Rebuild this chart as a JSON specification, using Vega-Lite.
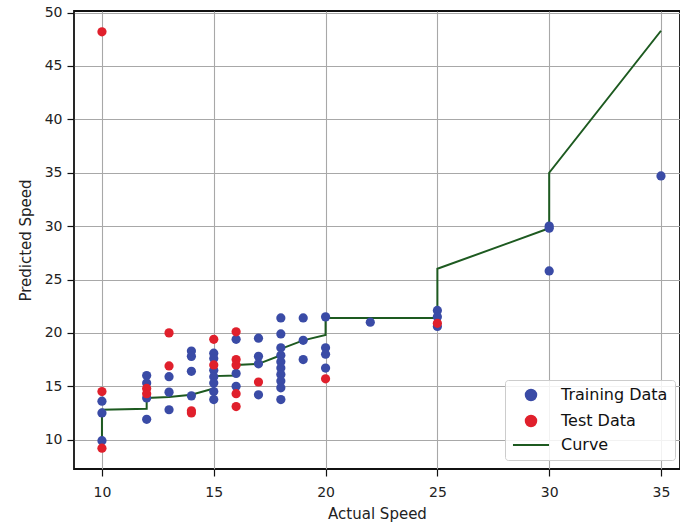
{
  "$schema": "https://vega.github.io/schema/vega-lite/v6.json",
  "width": 606,
  "height": 458,
  "padding": {"left": 74, "top": 11, "right": 0, "bottom": 58},
  "autosize": {"type": "none"},
  "background": "white",
  "config": {
    "font": "DejaVu Sans",
    "view": {"stroke": "#111", "strokeWidth": 1.8},
    "axis": {
      "grid": true,
      "gridColor": "#a8a8a8",
      "gridWidth": 1.1,
      "domain": false,
      "tickColor": "#111",
      "tickSize": 7,
      "tickWidth": 1.2,
      "labelColor": "#222",
      "labelFontSize": 14,
      "titleFontSize": 15,
      "titleFontWeight": "normal",
      "titleColor": "#222"
    }
  },
  "datasets": {
    "pts": [
      {"x": 10, "y": 13.6, "series": "Training Data"},
      {"x": 10, "y": 12.5, "series": "Training Data"},
      {"x": 10, "y": 9.9, "series": "Training Data"},
      {"x": 12, "y": 16.0, "series": "Training Data"},
      {"x": 12, "y": 15.3, "series": "Training Data"},
      {"x": 12, "y": 13.9, "series": "Training Data"},
      {"x": 12, "y": 11.9, "series": "Training Data"},
      {"x": 13, "y": 15.9, "series": "Training Data"},
      {"x": 13, "y": 14.45, "series": "Training Data"},
      {"x": 13, "y": 12.8, "series": "Training Data"},
      {"x": 14, "y": 18.3, "series": "Training Data"},
      {"x": 14, "y": 17.8, "series": "Training Data"},
      {"x": 14, "y": 16.4, "series": "Training Data"},
      {"x": 14, "y": 14.1, "series": "Training Data"},
      {"x": 15, "y": 18.1, "series": "Training Data"},
      {"x": 15, "y": 17.6, "series": "Training Data"},
      {"x": 15, "y": 16.5, "series": "Training Data"},
      {"x": 15, "y": 15.9, "series": "Training Data"},
      {"x": 15, "y": 15.3, "series": "Training Data"},
      {"x": 15, "y": 14.5, "series": "Training Data"},
      {"x": 15, "y": 13.75, "series": "Training Data"},
      {"x": 16, "y": 19.4, "series": "Training Data"},
      {"x": 16, "y": 16.2, "series": "Training Data"},
      {"x": 16, "y": 15.0, "series": "Training Data"},
      {"x": 17, "y": 19.5, "series": "Training Data"},
      {"x": 17, "y": 17.8, "series": "Training Data"},
      {"x": 17, "y": 17.1, "series": "Training Data"},
      {"x": 17, "y": 14.2, "series": "Training Data"},
      {"x": 18, "y": 21.4, "series": "Training Data"},
      {"x": 18, "y": 19.9, "series": "Training Data"},
      {"x": 18, "y": 18.6, "series": "Training Data"},
      {"x": 18, "y": 17.9, "series": "Training Data"},
      {"x": 18, "y": 17.3, "series": "Training Data"},
      {"x": 18, "y": 16.7, "series": "Training Data"},
      {"x": 18, "y": 16.1, "series": "Training Data"},
      {"x": 18, "y": 15.5, "series": "Training Data"},
      {"x": 18, "y": 14.85, "series": "Training Data"},
      {"x": 18, "y": 13.75, "series": "Training Data"},
      {"x": 19, "y": 21.4, "series": "Training Data"},
      {"x": 19, "y": 19.3, "series": "Training Data"},
      {"x": 19, "y": 17.5, "series": "Training Data"},
      {"x": 20, "y": 21.5, "series": "Training Data"},
      {"x": 20, "y": 18.6, "series": "Training Data"},
      {"x": 20, "y": 18.0, "series": "Training Data"},
      {"x": 20, "y": 16.7, "series": "Training Data"},
      {"x": 22, "y": 21.0, "series": "Training Data"},
      {"x": 25, "y": 22.1, "series": "Training Data"},
      {"x": 25, "y": 21.5, "series": "Training Data"},
      {"x": 25, "y": 20.6, "series": "Training Data"},
      {"x": 30, "y": 30.0, "series": "Training Data"},
      {"x": 30, "y": 29.8, "series": "Training Data"},
      {"x": 30, "y": 25.8, "series": "Training Data"},
      {"x": 35, "y": 34.7, "series": "Training Data"},
      {"x": 10, "y": 48.2, "series": "Test Data"},
      {"x": 10, "y": 14.5, "series": "Test Data"},
      {"x": 10, "y": 9.2, "series": "Test Data"},
      {"x": 12, "y": 14.8, "series": "Test Data"},
      {"x": 12, "y": 14.3, "series": "Test Data"},
      {"x": 13, "y": 20.0, "series": "Test Data"},
      {"x": 13, "y": 16.9, "series": "Test Data"},
      {"x": 14, "y": 12.7, "series": "Test Data"},
      {"x": 14, "y": 12.5, "series": "Test Data"},
      {"x": 15, "y": 19.4, "series": "Test Data"},
      {"x": 15, "y": 17.0, "series": "Test Data"},
      {"x": 16, "y": 20.1, "series": "Test Data"},
      {"x": 16, "y": 17.5, "series": "Test Data"},
      {"x": 16, "y": 17.0, "series": "Test Data"},
      {"x": 16, "y": 14.3, "series": "Test Data"},
      {"x": 16, "y": 13.1, "series": "Test Data"},
      {"x": 17, "y": 15.4, "series": "Test Data"},
      {"x": 20, "y": 15.7, "series": "Test Data"},
      {"x": 25, "y": 20.9, "series": "Test Data"}
    ],
    "curve": [
      {"i": 0, "x": 10, "y": 10.0, "series": "Curve"},
      {"i": 1, "x": 10, "y": 12.8, "series": "Curve"},
      {"i": 2, "x": 12, "y": 12.9, "series": "Curve"},
      {"i": 3, "x": 12, "y": 13.9, "series": "Curve"},
      {"i": 4, "x": 13, "y": 14.0, "series": "Curve"},
      {"i": 5, "x": 14, "y": 14.2, "series": "Curve"},
      {"i": 6, "x": 15, "y": 14.8, "series": "Curve"},
      {"i": 7, "x": 15, "y": 15.95, "series": "Curve"},
      {"i": 8, "x": 16, "y": 16.0, "series": "Curve"},
      {"i": 9, "x": 16, "y": 17.0, "series": "Curve"},
      {"i": 10, "x": 17, "y": 17.1, "series": "Curve"},
      {"i": 11, "x": 18, "y": 17.9, "series": "Curve"},
      {"i": 12, "x": 18, "y": 18.5, "series": "Curve"},
      {"i": 13, "x": 19, "y": 19.3, "series": "Curve"},
      {"i": 14, "x": 20, "y": 19.8, "series": "Curve"},
      {"i": 15, "x": 20, "y": 21.4, "series": "Curve"},
      {"i": 16, "x": 22, "y": 21.4, "series": "Curve"},
      {"i": 17, "x": 25, "y": 21.4, "series": "Curve"},
      {"i": 18, "x": 25, "y": 26.0, "series": "Curve"},
      {"i": 19, "x": 30, "y": 29.8, "series": "Curve"},
      {"i": 20, "x": 30, "y": 35.0, "series": "Curve"},
      {"i": 21, "x": 35, "y": 48.3, "series": "Curve"}
    ]
  },
  "encoding": {
    "x": {
      "field": "x", "type": "quantitative",
      "scale": {"domain": [8.75, 35.85], "nice": false, "zero": false},
      "axis": {"values": [10, 15, 20, 25, 30, 35], "title": "Actual Speed", "labelPadding": 9, "titlePadding": 7}
    },
    "y": {
      "field": "y", "type": "quantitative",
      "scale": {"domain": [7.25, 50.15], "nice": false, "zero": false},
      "axis": {"values": [10, 15, 20, 25, 30, 35, 40, 45, 50], "title": "Predicted Speed", "labelPadding": 5, "titlePadding": 11}
    },
    "color": {"field": "series", "type": "nominal",
      "scale": {"domain": ["Training Data", "Test Data", "Curve"], "range": ["#3a4ba6", "#e0202c", "#1d5a20"]},
      "legend": {
        "title": null,
        "orient": "none",
        "legendX": 431,
        "legendY": 369,
        "values": ["Training Data", "Test Data", "Curve"],
        "labelFontSize": 16,
        "labelColor": "#111",
        "labelOffset": 22,
        "symbolOffset": 11,
        "rowPadding": 6,
        "padding": 7,
        "fillColor": "rgba(255,255,255,0.85)",
        "strokeColor": "#cccccc",
        "cornerRadius": 3,
        "symbolType": "circle",
        "encode": {
          "symbols": {
            "update": {
              "shape": {"signal": "datum.value === 'Curve' ? 'stroke' : 'circle'"},
              "size": {"signal": "datum.value === 'Curve' ? 1300 : 110"},
              "stroke": {"scale": "color", "field": "value"},
              "strokeWidth": {"value": 2},
              "fill": {"signal": "datum.value === 'Curve' ? 'transparent' : scale('color', datum.value)"}
            }
          }
        }
      }
    }
  },
  "layer": [
    {
      "data": {"name": "curve"},
      "mark": {"type": "line", "strokeWidth": 2, "clip": true},
      "encoding": {
        "order": {"field": "i", "type": "quantitative"}
      }
    },
    {
      "data": {"name": "pts"},
      "mark": {"type": "point", "filled": true, "size": 85, "opacity": 1, "clip": true},
      "encoding": {
        "order": {"field": "series", "sort": "descending"}
      }
    }
  ]
}
